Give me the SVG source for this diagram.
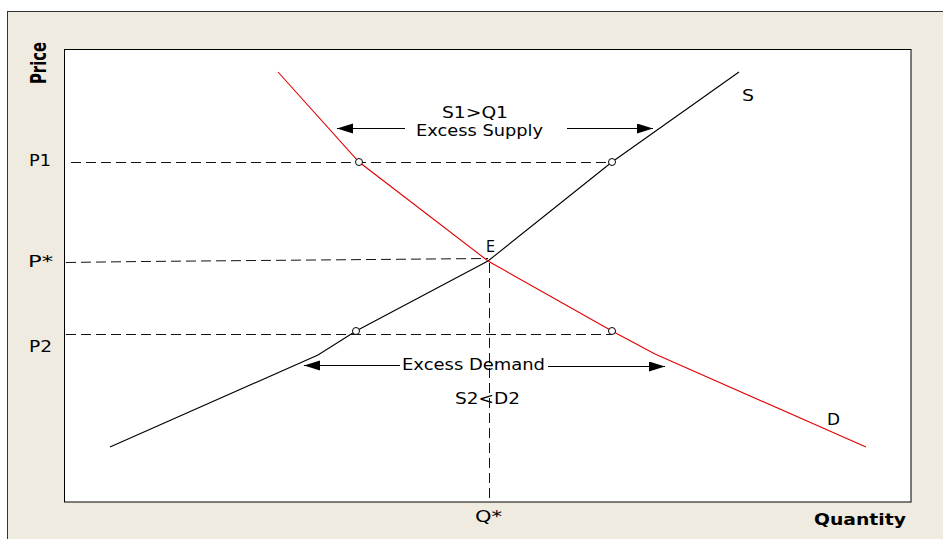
<svg xmlns="http://www.w3.org/2000/svg" width="943" height="539" viewBox="0 0 943 539">
<style>
text{font-family:"DejaVu Sans","Verdana",sans-serif;font-size:16px;fill:#000}
.b{font-weight:bold}
.dash{fill:none;stroke:#111;stroke-width:1;stroke-dasharray:10 5}
.sup{fill:none;stroke:#000;stroke-width:1.1}
.dem{fill:none;stroke:#e00000;stroke-width:1.1}
.arr{stroke:#000;stroke-width:1.1;marker-end:url(#ah)}
.pt{fill:#fff;stroke:#000;stroke-width:1}
</style>
<defs>
<marker id="ah" markerUnits="userSpaceOnUse" markerWidth="17" markerHeight="11" refX="16" refY="5" orient="auto">
<path d="M0,0 L16,5 L0,10 z" fill="#000"/>
</marker>
</defs>
<rect id="frame" x="7.5" y="11.5" width="950" height="540" fill="#f0ebe0" stroke="#333" stroke-width="1"/>
<rect id="plot" x="64.5" y="49.5" width="846.5" height="452.5" fill="#fff" stroke="#000" stroke-width="1"/>
<g id="connectors">
<path class="dash" d="M71,162.5 H612"/>
<path class="dash" d="M66,262.5 L142,261.5 L488,258.5"/>
<path class="dash" d="M66,334.5 H612"/>
<path class="dash" d="M489.5,263 V498"/>
<polyline id="supply" class="sup" points="110,447 318,355 356,331 488,261 612,162 739,72"/>
<polyline id="demand" class="dem" points="278,72 359,162 488,261 612,331 655,354 866,447"/>
<line class="arr" x1="405" y1="128.5" x2="337" y2="128.5"/>
<line class="arr" x1="567" y1="128.5" x2="653" y2="128.5"/>
<line class="arr" x1="400" y1="365.5" x2="304" y2="365.5"/>
<line class="arr" x1="548" y1="366.5" x2="665" y2="366.5"/>
</g>
<g id="points">
<circle class="pt" cx="359" cy="162" r="3.5"/>
<circle class="pt" cx="612" cy="162" r="3.5"/>
<circle class="pt" cx="356" cy="331" r="3.5"/>
<circle class="pt" cx="612" cy="331" r="3.5"/>
</g>
<g id="labels">
<text class="b" transform="translate(46,63) scale(1.3,1) rotate(-90)" text-anchor="middle" textLength="42" lengthAdjust="spacingAndGlyphs">Price</text>
<text x="29" y="166" textLength="22" lengthAdjust="spacingAndGlyphs">P1</text>
<text x="28" y="267" textLength="25" lengthAdjust="spacingAndGlyphs">P*</text>
<text x="29" y="352" textLength="23" lengthAdjust="spacingAndGlyphs">P2</text>
<text x="442" y="118" textLength="66" lengthAdjust="spacingAndGlyphs">S1&gt;Q1</text>
<text x="416" y="136" textLength="127" lengthAdjust="spacingAndGlyphs">Excess Supply</text>
<text x="486" y="252" textLength="9" lengthAdjust="spacingAndGlyphs">E</text>
<text x="742" y="101" textLength="12" lengthAdjust="spacingAndGlyphs">S</text>
<text x="402" y="370" textLength="143" lengthAdjust="spacingAndGlyphs">Excess Demand</text>
<text x="455" y="404" textLength="65" lengthAdjust="spacingAndGlyphs">S2&lt;D2</text>
<text x="827" y="425" textLength="13" lengthAdjust="spacingAndGlyphs">D</text>
<text x="475" y="522" textLength="27" lengthAdjust="spacingAndGlyphs">Q*</text>
<text class="b" x="814" y="525" textLength="92" lengthAdjust="spacingAndGlyphs">Quantity</text>
</g>
</svg>
